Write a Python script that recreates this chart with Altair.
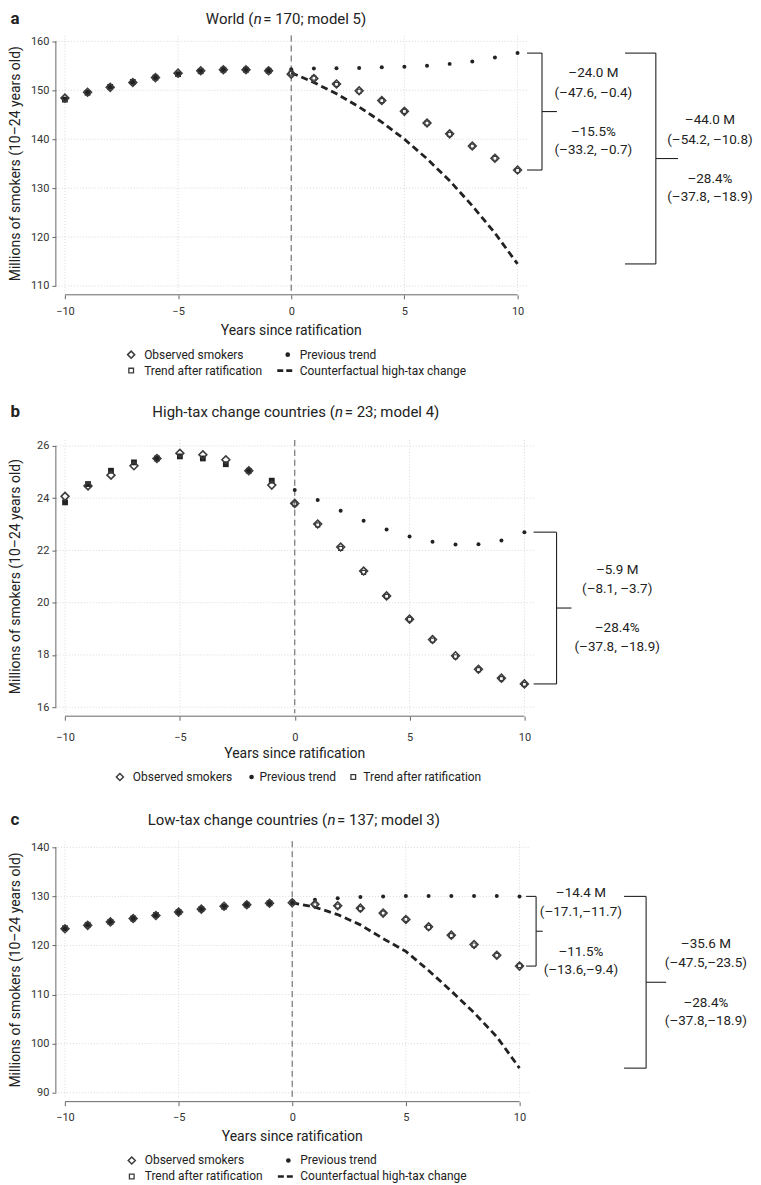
import altair as alt
import pandas as pd

# ---------------- data ----------------
years = list(range(-10, 11))
post_years = list(range(0, 11))
x_ticks = [-10, -5, 0, 5, 10]

legend_labels = ["Observed smokers", "Previous trend", "Trend after ratification",
                 "Counterfactual high-tax change"]
x_title = "Years since ratification"
y_title = "Millions of smokers (10–24 years old)"

# Panel a: World
a_title = ["World (", "n", "\u00a0= 170; model 5)"]
a_obs = [148.4, 149.6, 150.6, 151.6, 152.6, 153.5, 154.0, 154.2, 154.2, 154.0, 153.3,
         152.4, 151.3, 149.9, 147.9, 145.7, 143.3, 141.1, 138.6, 136.1, 133.7]
a_fit = [148.1, 149.5, 150.7, 151.7, 152.6, 153.3, 153.9, 154.2, 154.2, 154.0, 153.5,
         152.5, 151.2, 149.8, 147.9, 145.7, 143.3, 141.0, 138.6, 136.1, 133.6]
a_prev = [154.3, 154.45, 154.5, 154.55, 154.7, 154.8, 155.0, 155.4, 155.9, 156.7, 157.6]
a_cf = [153.6, 151.6, 149.3, 146.6, 143.5, 140.0, 136.0, 131.5, 126.4, 120.8, 114.5]
a_yticks = [110, 120, 130, 140, 150, 160]
a_inner = ["–24.0 M", "(–47.6, –0.4)", "–15.5%", "(–33.2, –0.7)"]
a_outer = ["–44.0 M", "(–54.2, –10.8)", "–28.4%", "(–37.8, –18.9)"]

# Panel b: High-tax change countries
b_title = ["High-tax change countries (", "n", "\u00a0= 23; model 4)"]
b_obs = [24.07, 24.47, 24.88, 25.24, 25.52, 25.72, 25.66, 25.47, 25.05, 24.50, 23.80,
         23.01, 22.13, 21.21, 20.26, 19.37, 18.59, 17.97, 17.45, 17.11, 16.89]
b_fit = [23.84, 24.54, 25.05, 25.37, 25.52, 25.60, 25.52, 25.30, 25.05, 24.67, 23.78,
         22.98, 22.08, 21.16, 20.24, 19.36, 18.57, 17.93, 17.44, 17.09, 16.87]
b_prev = [24.31, 23.93, 23.52, 23.14, 22.80, 22.53, 22.33, 22.23, 22.24, 22.38, 22.70]
b_yticks = [16, 18, 20, 22, 24, 26]
b_ann = ["–5.9 M", "(–8.1, –3.7)", "–28.4%", "(–37.8, –18.9)"]

# Panel c: Low-tax change countries
c_title = ["Low-tax change countries (", "n", "\u00a0= 137; model 3)"]
c_obs = [123.4, 124.1, 124.8, 125.5, 126.1, 126.8, 127.4, 128.0, 128.3, 128.6, 128.7,
         128.4, 128.1, 127.6, 126.6, 125.3, 123.8, 122.1, 120.2, 118.0, 115.8]
c_fit = [123.5, 124.2, 124.8, 125.5, 126.2, 126.8, 127.4, 127.9, 128.3, 128.6, 128.8,
         128.3, 128.0, 127.5, 126.6, 125.3, 123.7, 122.0, 120.1, 118.0, 115.9]
c_prev = [128.7, 129.3, 129.6, 129.9, 130.0, 130.1, 130.1, 130.1, 130.1, 130.1, 130.0]
c_cf = [128.7, 127.8, 126.3, 124.2, 121.4, 118.8, 114.9, 110.7, 106.3, 101.4, 95.0]
c_yticks = [90, 100, 110, 120, 130, 140]
c_inner = ["–14.4 M", "(–17.1,–11.7)", "–11.5%", "(–13.6,–9.4)"]
c_outer = ["–35.6 M", "(–47.5,–23.5)", "–28.4%", "(–37.8,–18.9)"]

# ---------------- styling ----------------
FONT = "Roboto"
INK = "#222222"
GREY = "#3c3c3c"
AXIS = "#666666"
GRID = "#cfcfcf"
ONE = pd.DataFrame({"k": [0]})
LINE_DY = [-38.5, -19, 20.5, 39]


def txt(text, x, y, size=12, align="left", weight="normal", style="normal", angle=0):
    return alt.Chart(ONE).mark_text(
        text=text, fontSize=size, align=align, baseline="middle", fontWeight=weight,
        fontStyle=style, angle=angle, font=FONT, color=INK
    ).encode(x=alt.value(x), y=alt.value(y))


def panel(letter, tparts, nx, ty, obs, fit, prev, cf, yticks, ydom, w, h,
          lab_pad, xt_y, legend_rows, brackets):
    xs = alt.Scale(domain=[-10.4, 10.4], nice=False, zero=False)
    ys = alt.Scale(domain=ydom, nice=False, zero=False)
    xaxis = alt.Axis(values=x_ticks, title=None, grid=False, domain=False, offset=3,
                     tickSize=4, labelPadding=lab_pad, format="d", labelFontSize=11,
                     labelFont=FONT, labelColor="#333333", tickColor=AXIS)
    yaxis = alt.Axis(values=yticks, title=None, grid=False, domain=False,
                     tickSize=4, labelPadding=3, format="d", labelFontSize=11,
                     labelFont=FONT, labelColor="#333333", tickColor=AXIS)
    X = lambda f: alt.X(f, scale=xs, axis=xaxis)
    Y = lambda f: alt.Y(f, scale=ys, axis=yaxis)

    layers = []
    # gridlines
    layers.append(alt.Chart(pd.DataFrame({"gx": x_ticks})).mark_rule(
        color=GRID, strokeDash=[1, 2], strokeWidth=0.8).encode(x=X("gx:Q")))
    layers.append(alt.Chart(pd.DataFrame({"gy": yticks})).mark_rule(
        color=GRID, strokeDash=[1, 2], strokeWidth=0.8).encode(y=Y("gy:Q")))
    # ratification line
    layers.append(alt.Chart(pd.DataFrame({"zx": [0]})).mark_rule(
        color="#777777", strokeDash=[6, 4], strokeWidth=1.2).encode(x=X("zx:Q")))
    # axis lines
    layers.append(alt.Chart(pd.DataFrame({"ax1": [x_ticks[0]], "ax2": [x_ticks[-1]]})).mark_rule(
        color=AXIS, strokeWidth=1).encode(x=X("ax1:Q"), x2="ax2:Q", y=alt.value(h + 3)))
    layers.append(alt.Chart(pd.DataFrame({"ay1": [yticks[0]], "ay2": [yticks[-1]]})).mark_rule(
        color=AXIS, strokeWidth=1).encode(x=alt.value(0), y=Y("ay1:Q"), y2="ay2:Q"))

    # counterfactual line
    if cf is not None:
        layers.append(alt.Chart(pd.DataFrame({"cx": post_years, "cy": cf})).mark_line(
            color=INK, strokeDash=[7, 4], strokeWidth=2.8).encode(x=X("cx:Q"), y=Y("cy:Q")))

    pts = pd.DataFrame({"x": years, "obs": obs, "fit": fit})
    pre = pts[pts["x"] < 0]
    post = pts[pts["x"] >= 0]
    layers.append(alt.Chart(pre).mark_square(size=34, color=INK, opacity=1).encode(
        x=X("x:Q"), y=Y("fit:Q")))
    layers.append(alt.Chart(post).mark_point(shape="square", filled=False, size=16,
                                             strokeWidth=1.2, color=GREY, opacity=1).encode(
        x=X("x:Q"), y=Y("fit:Q")))
    layers.append(alt.Chart(pd.DataFrame({"px": post_years, "py": prev})).mark_circle(
        size=16, color=INK, opacity=1).encode(x=X("px:Q"), y=Y("py:Q")))
    layers.append(alt.Chart(pts).mark_point(shape="diamond", filled=False, size=62,
                                            strokeWidth=1.6, color=GREY, opacity=1).encode(
        x=X("x:Q"), y=Y("obs:Q")))

    # brackets + annotation text
    for b in brackets:
        top, bot = b["top"], b["bottom"]
        mid = (top + bot) / 2
        seg = pd.DataFrame({
            "bx": [b["x0"], b["x0"], b["x1"], b["x1"]],
            "bx2": [b["x1"], b["x1"], b["x1"], b["x2"]],
            "by": [top, bot, top, mid],
            "by2": [top, bot, bot, mid],
        })
        layers.append(alt.Chart(seg).mark_rule(color=INK, strokeWidth=1.1).encode(
            x=X("bx:Q"), x2="bx2:Q", y=Y("by:Q"), y2="by2:Q"))
        tdf = pd.DataFrame({"tx": [b["tx"]], "ty": [mid]})
        for line, dy in zip(b["lines"], LINE_DY):
            layers.append(alt.Chart(tdf).mark_text(
                text=line, dy=dy, fontSize=13.5, font=FONT, color=INK, align="center",
                baseline="middle").encode(x=X("tx:Q"), y=Y("ty:Q")))

    # titles
    layers.append(txt(letter, -45.5, ty, size=17, weight="bold"))
    layers.append(txt(tparts[0], nx, ty, size=15, align="right"))
    layers.append(txt(tparts[1], nx + 0.3, ty, size=15, style="italic"))
    layers.append(txt(tparts[2], nx + 10.0, ty, size=15))
    layers.append(txt(y_title, -40, h / 2, size=14, align="center", angle=270))
    layers.append(txt(x_title, w / 2, xt_y, size=14, align="center"))

    # legend
    for ry, items in legend_rows:
        for kind, label, sx, tx in items:
            if kind == "diamond":
                layers.append(alt.Chart(ONE).mark_point(shape="diamond", filled=False, size=50,
                                                        strokeWidth=1.5, color=GREY, opacity=1)
                              .encode(x=alt.value(sx), y=alt.value(ry)))
            elif kind == "dot":
                layers.append(alt.Chart(ONE).mark_circle(size=22, color=INK, opacity=1)
                              .encode(x=alt.value(sx), y=alt.value(ry)))
            elif kind == "square":
                layers.append(alt.Chart(ONE).mark_point(shape="square", filled=False, size=22,
                                                        strokeWidth=1.3, color=GREY, opacity=1)
                              .encode(x=alt.value(sx), y=alt.value(ry)))
            else:
                layers.append(alt.Chart(ONE).mark_rule(color=INK, strokeWidth=2.6,
                                                       strokeDash=[6, 3])
                              .encode(x=alt.value(sx - 8.5), x2=alt.value(sx + 8.5),
                                      y=alt.value(ry)))
            layers.append(txt(label, tx, ry, size=12))

    return alt.layer(*layers).properties(width=w, height=h)


# ---------------- panels ----------------
wa, ha = 472, 257
pa = panel(
    "a", a_title, 198.0, -17, a_obs, a_fit, a_prev, a_cf, a_yticks, [108.8, 161.2], wa, ha,
    7, ha + 39,
    [(ha + 63, [("diamond", legend_labels[0], 75.5, 88.5), ("dot", legend_labels[1], 232.5, 244.5)]),
     (ha + 79, [("square", legend_labels[2], 75.5, 88.5), ("dash", legend_labels[3], 230.5, 244.5)])],
    [dict(top=a_prev[-1], bottom=a_obs[-1], x0=10.42, x1=11.08, x2=11.74, tx=13.35, lines=a_inner),
     dict(top=a_prev[-1], bottom=a_cf[-1], x0=14.75, x1=16.11, x2=17.09, tx=18.5, lines=a_outer)],
)

wb, hb = 479, 274
pb = panel(
    "b", b_title, 279.7, -27.7, b_obs, b_fit, b_prev, None, b_yticks, [15.77, 26.23], wb, hb,
    11, hb + 41,
    [(hb + 64, [("diamond", legend_labels[0], 64.2, 77.2), ("dot", legend_labels[1], 196.2, 204.2),
                ("square", legend_labels[2], 298.2, 308.2)])],
    [dict(top=b_prev[-1], bottom=b_obs[-1], x0=10.4, x1=11.4, x2=12.05, tx=14.04, lines=b_ann)],
)

wc, hc = 474, 258
pc = panel(
    "c", c_title, 272.0, -21.7, c_obs, c_fit, c_prev, c_cf, c_yticks, [88.78, 141.22], wc, hc,
    6, hc + 38,
    [(hc + 62, [("diamond", legend_labels[0], 76.1, 89.1), ("dot", legend_labels[1], 233.1, 245.1)]),
     (hc + 78, [("square", legend_labels[2], 76.1, 89.1), ("dash", legend_labels[3], 231.1, 245.1)])],
    [dict(top=c_prev[-1], bottom=c_obs[-1], x0=10.29, x1=10.73, x2=11.02, tx=12.7, lines=c_inner),
     dict(top=c_prev[-1], bottom=c_cf[-1], x0=14.6, x1=15.57, x2=16.45, tx=18.2, lines=c_outer)],
)

chart = alt.vconcat(pa, pb, pc, spacing=26.5).properties(padding=0).configure(
    font=FONT
).configure_view(stroke=None)

chart.save("out.html", embed_options={"renderer": "svg", "actions": False})
